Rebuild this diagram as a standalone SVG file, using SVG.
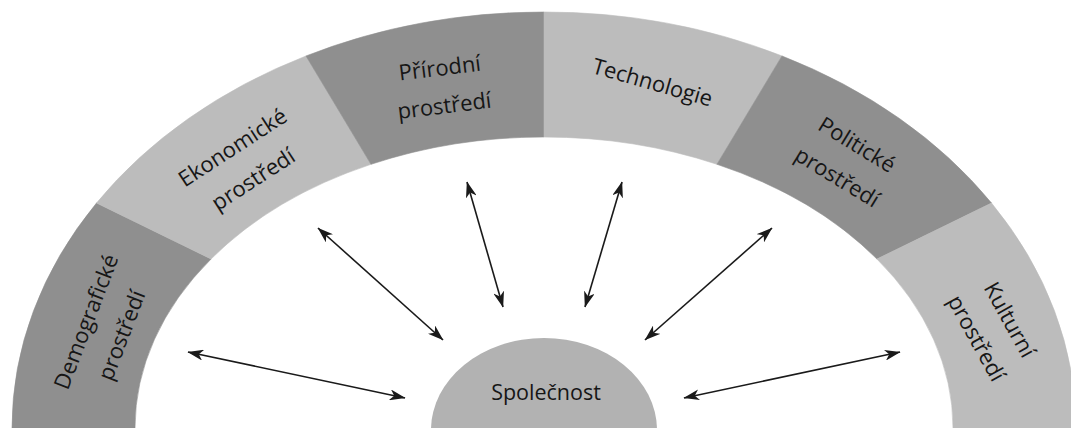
<svg xmlns="http://www.w3.org/2000/svg" width="1071" height="428" viewBox="0 0 1071 428">
<style>
.dark{fill:#8f8f8f;stroke:#8f8f8f;stroke-width:0.6}
.light{fill:#bcbcbc;stroke:#bcbcbc;stroke-width:0.6}
.lbl{font-family:"Open Sans","Noto Sans","DejaVu Sans",sans-serif;font-size:22px;fill:#161616;text-anchor:middle}
.arr{stroke:#1a1a1a;stroke-width:1.6;fill:none;marker-start:url(#ah);marker-end:url(#ah)}
</style>
<defs>
<marker id="ah" viewBox="0 0 16 11" refX="15.5" refY="5.5" markerWidth="16" markerHeight="11" markerUnits="userSpaceOnUse" orient="auto-start-reverse">
<path d="M0,0 L16,5.5 L0,11 L4.5,5.5 Z" fill="#1a1a1a"/>
</marker>
</defs>
<rect width="1071" height="428" fill="#ffffff"/>
<g id="demograficke">
<path class="dark" d="M12,428 A532,416 0 0 1 96.5,203 L211.05,259 A409,291 0 0 0 135,428 Z"/>
<g transform="translate(104,328.5) rotate(-69)">
<text class="lbl" x="0" y="-11.5">Demografické</text>
<text class="lbl" x="0" y="26.5">prostředí</text>
</g>
</g>
<g id="ekonomicke">
<path class="light" d="M96.5,203 A532,416 0 0 1 306,55.95 L371,164.31 A409,291 0 0 0 211.05,259 Z"/>
<g transform="translate(243,163.5) rotate(-33)">
<text class="lbl" x="0" y="-11.5">Ekonomické</text>
<text class="lbl" x="0" y="26.5">prostředí</text>
</g>
</g>
<g id="prirodni">
<path class="dark" d="M306,55.95 A532,416 0 0 1 544,12 L544,137 A409,291 0 0 0 371,164.31 Z"/>
<g transform="translate(442,87) rotate(-7)">
<text class="lbl" x="0" y="-11.5">Přírodní</text>
<text class="lbl" x="0" y="26.5">prostředí</text>
</g>
</g>
<g id="technologie">
<path class="light" d="M544,12 A532,416 0 0 1 782,55.95 L717,164.31 A409,291 0 0 0 544,137 Z"/>
<g transform="translate(652.5,82.5) rotate(16)">
<text class="lbl" x="0" y="7.5">Technologie</text>
</g>
</g>
<g id="politicke">
<path class="dark" d="M782,55.95 A532,416 0 0 1 991.5,203 L876.95,259 A409,291 0 0 0 717,164.31 Z"/>
<g transform="translate(847,161) rotate(31.5)">
<text class="lbl" x="0" y="-11.5">Politické</text>
<text class="lbl" x="0" y="26.5">prostředí</text>
</g>
</g>
<g id="kulturni">
<path class="light" d="M991.5,203 A532,416 0 0 1 1076,428 L953,428 A409,291 0 0 0 876.95,259 Z"/>
<g transform="translate(993,329) rotate(61)">
<text class="lbl" x="0" y="-11.5">Kulturní</text>
<text class="lbl" x="0" y="26.5">prostředí</text>
</g>
</g>
<g id="spolecnost">
<ellipse cx="544" cy="430" rx="113" ry="92" fill="#b2b2b2"/>
<text class="lbl" x="546" y="400" style="font-size:21.5px">Společnost</text>
</g>
<g id="connectors">
<line class="arr" x1="405" y1="398" x2="188" y2="352"/>
<line class="arr" x1="443" y1="340" x2="318" y2="228"/>
<line class="arr" x1="503" y1="307" x2="467" y2="182"/>
<line class="arr" x1="585" y1="307" x2="622" y2="182"/>
<line class="arr" x1="645" y1="340" x2="772" y2="228"/>
<line class="arr" x1="684" y1="398" x2="900" y2="352"/>
</g>
</svg>
